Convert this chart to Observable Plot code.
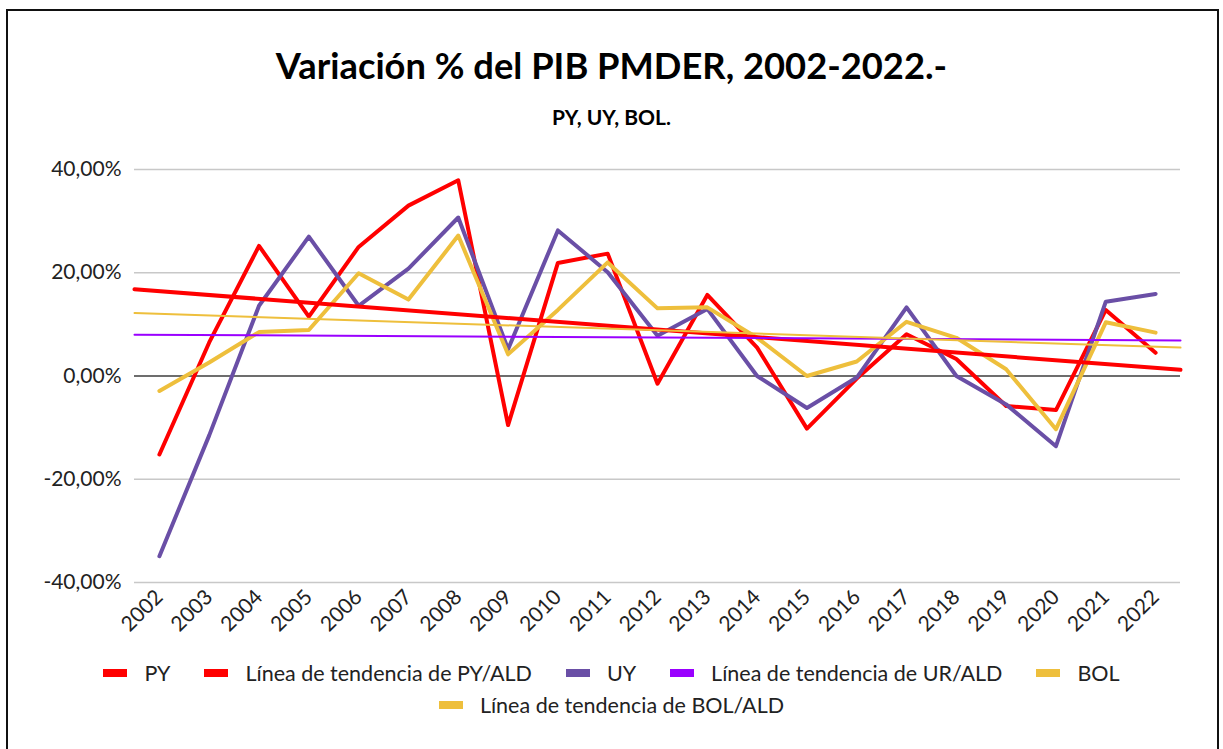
<!DOCTYPE html>
<html><head><meta charset="utf-8">
<script src="https://cdn.jsdelivr.net/npm/d3@7"></script>
<script src="https://cdn.jsdelivr.net/npm/@observablehq/plot@0.6"></script>
<style>
body{margin:0;background:#fff;font-family:Lato,"Open Sans",sans-serif;color:#000;}
#page{position:relative;width:1223px;height:749px;overflow:hidden;}
#frame{position:absolute;left:6px;top:9px;width:1213px;height:800px;border:2px solid #111;box-sizing:border-box;}
#title{position:absolute;left:0;top:44px;width:1223px;text-align:center;font-weight:bold;font-size:36.3px;line-height:42px;}
#subtitle{position:absolute;left:0;top:103px;width:1223px;text-align:center;font-weight:bold;font-size:21px;line-height:28px;}
#chart{position:absolute;left:0;top:150px;}
.lrow{position:absolute;left:0;width:1223px;display:flex;justify-content:center;align-items:center;font-size:21.5px;line-height:26px;color:#222;}
.item{display:flex;align-items:center;margin:0 17px;}
.sw{width:24px;height:8px;margin-right:17px;}
</style></head>
<body><div id="page">
<div id="frame"></div>
<div id="title">Variación % del PIB PMDER, 2002-2022.-</div>
<div id="subtitle">PY, UY, BOL.</div>
<div id="chart"></div>
<div class="lrow" id="row1" style="top:660px"></div>
<div class="lrow" id="row2" style="top:692px"></div>
</div>
<script>
const years = [2002,2003,2004,2005,2006,2007,2008,2009,2010,2011,2012,2013,2014,2015,2016,2017,2018,2019,2020,2021,2022];
const PY  = [-15.2, 6.5, 25.2, 11.5, 25.0, 33.0, 37.9, -9.5, 21.9, 23.7, -1.5, 15.7, 5.5, -10.2, -0.5, 8.1, 3.3, -5.8, -6.6, 12.8, 4.5];
const UY  = [-34.9, -11.5, 13.6, 27.0, 13.6, 20.8, 30.7, 5.2, 28.2, 20.1, 7.8, 13.0, 0.0, -6.2, -0.3, 13.3, 0.0, -5.5, -13.6, 14.4, 15.9];
const BOL = [-2.9, 2.6, 8.5, 8.9, 19.9, 14.8, 27.2, 4.2, 12.8, 22.0, 13.1, 13.3, 7.4, 0.0, 2.8, 10.5, 7.4, 1.3, -10.3, 10.4, 8.4];
// trend lines at the two edges of the category axis
const trendX   = [2001.5, 2022.5];
const trendPY  = [16.8, 1.2];
const trendUY  = [8.0, 6.9];
const trendBOL = [12.2, 5.5];
const yTicks = [-40, -20, 0, 20, 40];
const seriesNames = ["PY","Línea de tendencia de PY/ALD","UY","Línea de tendencia de UR/ALD","BOL","Línea de tendencia de BOL/ALD"];
const colors = ["#FF0000","#FF0000","#6A4FA6","#9A00FF","#EEBF3C","#EEBF3C"];

const rows = years.map((y,i)=>({year:y, PY:PY[i], UY:UY[i], BOL:BOL[i]}));
const trows = trendX.map((x,i)=>({x, PY:trendPY[i], UY:trendUY[i], BOL:trendBOL[i]}));
const fmt = d => d.toFixed(2).replace(".", ",") + "%";

const chart = Plot.plot({
  width: 1223, height: 512,
  marginLeft: 134, marginRight: 43, marginTop: 19, marginBottom: 80,
  style: {fontFamily: "Lato, sans-serif", fontSize: "21px", color: "#222", background: "transparent"},
  x: {domain: [2001.5, 2022.5]},
  y: {domain: [-40, 40]},
  marks: [
    Plot.ruleY(yTicks.filter(d=>d!==0), {stroke: "#C8C8C8", strokeWidth: 1.6}),
    Plot.ruleY([0], {stroke: "#3C3C3C", strokeWidth: 1.6}),
    Plot.axisY({ticks: yTicks, tickFormat: fmt, tickSize: 0, tickPadding: 13, label: null, fontSize: 21}),
    Plot.axisX({ticks: years, tickFormat: d => String(d), tickRotate: -45, tickSize: 0, tickPadding: 11, label: null, fontSize: 21}),
    Plot.line(rows, {x: "year", y: "PY", stroke: colors[0], strokeWidth: 4}),
    Plot.line(rows, {x: "year", y: "UY", stroke: colors[2], strokeWidth: 4}),
    Plot.line(rows, {x: "year", y: "BOL", stroke: colors[4], strokeWidth: 4}),
    Plot.line(trows, {x: "x", y: "PY", stroke: colors[1], strokeWidth: 4}),
    Plot.line(trows, {x: "x", y: "UY", stroke: colors[3], strokeWidth: 2}),
    Plot.line(trows, {x: "x", y: "BOL", stroke: colors[5], strokeWidth: 2})
  ]
});
document.getElementById("chart").appendChild(chart);

function addItem(row, i){
  const it = document.createElement("div"); it.className = "item";
  const sw = document.createElement("div"); sw.className = "sw"; sw.style.background = colors[i];
  const tx = document.createElement("span"); tx.textContent = seriesNames[i];
  it.appendChild(sw); it.appendChild(tx); row.appendChild(it);
}
const r1 = document.getElementById("row1"), r2 = document.getElementById("row2");
[0,1,2,3,4].forEach(i=>addItem(r1,i));
addItem(r2,5);
</script>
</body></html>
